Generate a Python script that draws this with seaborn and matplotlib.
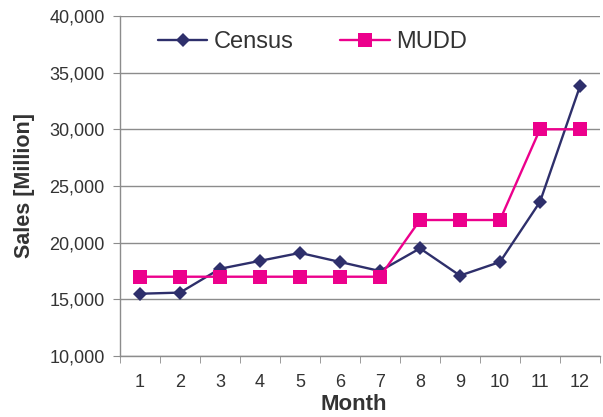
import pandas as pd
import matplotlib
matplotlib.use('Agg')
import matplotlib.pyplot as plt
import seaborn as sns
from matplotlib.ticker import FuncFormatter, MultipleLocator

# Données
months = list(range(1, 13))
census = [15500, 15600, 17700, 18400, 19100, 18300, 17500, 19500, 17100, 18300, 23600, 33800]
mudd = [17000, 17000, 17000, 17000, 17000, 17000, 17000, 22000, 22000, 22000, 30000, 30000]

df = pd.DataFrame({'Month': months, 'Census': census, 'MUDD': mudd})
long_df = df.melt(id_vars='Month', var_name='Source', value_name='Sales')

sns.set_style("white")
plt.rcParams['font.family'] = ['Liberation Sans', 'DejaVu Sans']

fig = plt.figure(figsize=(6.03, 4.17), dpi=100)
ax = fig.add_axes([0.199, 0.146, 0.796, 0.816])

palette = {'Census': '#2E2F6B', 'MUDD': '#EC008C'}
sns.lineplot(data=long_df, x='Month', y='Sales', hue='Source', style='Source',
             markers={'Census': 'D', 'MUDD': 's'}, dashes=False, palette=palette,
             linewidth=1.7, markeredgewidth=0, ax=ax)
for line, ms in zip(ax.get_lines()[:2], [7, 9.5]):
    line.set_markersize(ms)

ax.set_xlim(0.5, 12.5)
ax.set_ylim(10000, 40000)
ax.set_xticks(months)
ax.xaxis.set_minor_locator(MultipleLocator(1, offset=0.5))
ax.yaxis.set_major_locator(MultipleLocator(5000))
ax.yaxis.set_major_formatter(FuncFormatter(lambda v, p: f'{int(v):,}'))
ax.grid(axis='y', color='#8c8c8c', linewidth=1)
ax.set_axisbelow(True)

for s in ['top', 'right']:
    ax.spines[s].set_visible(False)
for s in ['left', 'bottom']:
    ax.spines[s].set_color('#8c8c8c')
    ax.spines[s].set_linewidth(1)

ax.tick_params(axis='x', which='major', length=0, labelsize=13, colors='#333333', pad=13)
ax.tick_params(axis='x', which='minor', length=5, color='#8c8c8c', bottom=True)
ax.tick_params(axis='y', length=5, color='#8c8c8c', labelsize=13, labelcolor='#333333',
               left=True, pad=6)

ax.set_xlabel('Month', fontsize=16, fontweight='bold', color='#333333')
ax.set_ylabel('Sales [Million]', fontsize=15.5, fontweight='bold', color='#333333')
ax.xaxis.set_label_coords(0.486, -0.112)
ax.yaxis.set_label_coords(-0.177, 0.5)

handles, labels = ax.get_legend_handles_labels()
leg = ax.legend(handles, labels, loc='center left', bbox_to_anchor=(0.079, 0.9235), ncol=2,
                frameon=False, fontsize=17, handlelength=2.1, columnspacing=2.0,
                handletextpad=0.25, borderpad=0, borderaxespad=0, labelcolor='#333333')
for h, ms in zip(leg.legend_handles, [7, 9.5]):
    h.set_markersize(ms)
    h.set_linewidth(1.7)

plt.savefig('out.png', dpi=100)
